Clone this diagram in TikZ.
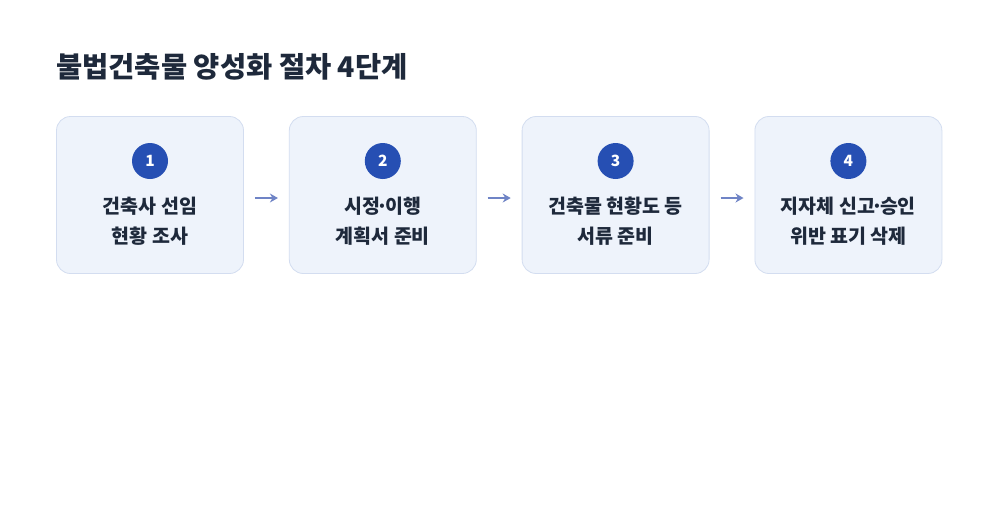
\documentclass[tikz,border=0pt]{standalone}
\usepackage{fontspec}
\setmainfont{Noto Sans CJK KR}
\usetikzlibrary{positioning}
\usetikzlibrary{arrows.meta}

\definecolor{titlenavy}{HTML}{1E293B}
\definecolor{boxfill}{HTML}{EEF3FB}
\definecolor{boxline}{HTML}{D3DDF0}
\definecolor{dotblue}{HTML}{264FB3}
\definecolor{arrowblue}{HTML}{6F84C6}

\newcommand{\tightdot}{\kern-3.5pt·\kern-3.5pt}

\tikzset{
  stepbox/.style={draw=boxline,line width=0.8pt,fill=boxfill,rounded corners=14pt,
    minimum width=187pt,minimum height=157pt,inner sep=0pt},
  numdot/.style={circle,fill=dotblue,minimum size=36pt,inner sep=0pt,
    text=white,font=\fontsize{15.5}{15.5}\selectfont\bfseries},
  steptext/.style={align=center,text=titlenavy,inner sep=0pt,
    font=\fontsize{19.5}{30}\selectfont\bfseries},
  flow/.style={draw=arrowblue,line width=2.2pt,-{Stealth[length=8pt,width=9pt]},
    shorten <=11pt,shorten >=11pt}
}

\begin{document}
\begin{tikzpicture}[x=1pt,y=1pt]
 \useasboundingbox[fill=white] (0,0) rectangle (1000,-520);
 % title
 \node[anchor=west,inner sep=0pt,text=titlenavy,font=\fontsize{28.5}{28.5}\selectfont\bfseries]
   (title) at (56,-67) {불법건축물 양성화 절차 4단계};
 % boxes
 \node[stepbox] (box1) at (150,-195) {};
 \node[stepbox,right=45pt of box1] (box2) {};
 \node[stepbox,right=45pt of box2] (box3) {};
 \node[stepbox,right=45pt of box3] (box4) {};
 % numbers
 \node[numdot] (dot1) at ([yshift=34pt]box1.center) {1};
 \node[numdot] (dot2) at ([yshift=34pt]box2.center) {2};
 \node[numdot] (dot3) at ([yshift=34pt]box3.center) {3};
 \node[numdot] (dot4) at ([yshift=34pt]box4.center) {4};
 % labels
 \node[steptext] (txt1) at ([yshift=-26pt]box1.center) {건축사 선임\\현황 조사};
 \node[steptext] (txt2) at ([yshift=-26pt]box2.center) {시정\tightdot 이행\\계획서 준비};
 \node[steptext] (txt3) at ([yshift=-26pt]box3.center) {건축물 현황도 등\\서류 준비};
 \node[steptext] (txt4) at ([yshift=-26pt]box4.center) {지자체 신고\tightdot 승인\\위반 표기 삭제};
 % arrows
 \draw[flow] ([yshift=-3pt]box1.east) -- ([yshift=-3pt]box2.west);
 \draw[flow] ([yshift=-3pt]box2.east) -- ([yshift=-3pt]box3.west);
 \draw[flow] ([yshift=-3pt]box3.east) -- ([yshift=-3pt]box4.west);
\end{tikzpicture}
\end{document}
